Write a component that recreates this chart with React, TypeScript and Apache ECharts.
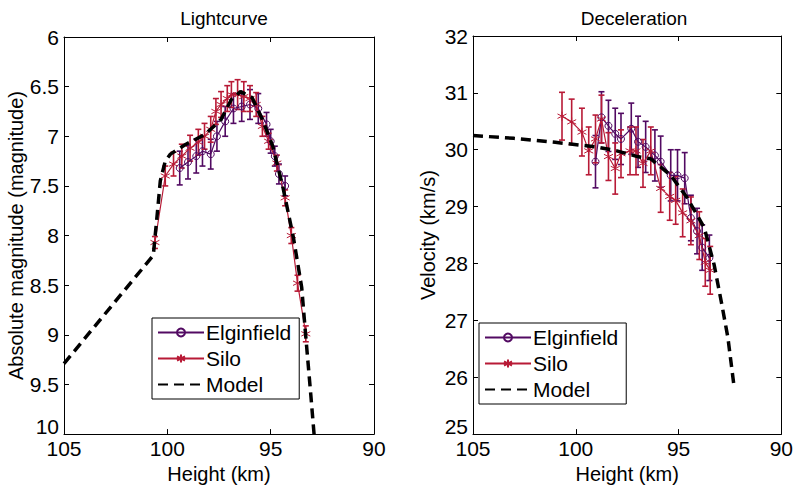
import React, { useEffect, useRef } from 'react';
import * as echarts from 'echarts';

// Lightcurve: [height km, magnitude, error]
const lcElginfield: number[][] = [
  [99.4, 7.32, 0.17], [99.0, 7.26, 0.17], [98.6, 7.2, 0.17], [98.3, 7.15, 0.15],
  [97.9, 7.18, 0.15], [97.6, 7.0, 0.15], [97.2, 6.85, 0.15], [96.8, 6.72, 0.15],
  [96.4, 6.7, 0.15], [96.0, 6.68, 0.15], [95.6, 6.72, 0.15], [95.2, 6.88, 0.12],
  [95.0, 7.05, 0.12], [94.8, 7.2, 0.1], [94.6, 7.38, 0.1], [94.3, 7.5, 0.1],
];
const lcSilo: number[][] = [
  [100.6, 8.07, 0.06], [100.1, 7.4, 0.1], [99.7, 7.28, 0.12], [99.3, 7.2, 0.12],
  [98.9, 7.12, 0.13], [98.5, 7.06, 0.13], [98.2, 7.0, 0.13], [97.9, 6.93, 0.13],
  [97.65, 6.75, 0.13], [97.4, 6.68, 0.13], [97.1, 6.62, 0.13], [96.9, 6.58, 0.13],
  [96.6, 6.58, 0.15], [96.3, 6.6, 0.15], [96.0, 6.62, 0.13], [95.7, 6.68, 0.12],
  [95.4, 6.9, 0.1], [95.1, 7.05, 0.08], [94.7, 7.27, 0.08], [94.3, 7.62, 0.08],
  [94.0, 8.0, 0.08], [93.7, 8.48, 0.08], [93.3, 8.99, 0.08],
];
const lcModel: number[][] = [
  [105, 9.29], [100.68, 8.2], [100.45, 7.7], [100.34, 7.45], [100.1, 7.25],
  [99.85, 7.18], [99.1, 7.08], [98.16, 6.98], [97.4, 6.83], [96.9, 6.63],
  [96.46, 6.55], [95.9, 6.61], [95.4, 6.83], [94.9, 7.1], [94.4, 7.52],
  [93.9, 8.02], [93.5, 8.52], [93.3, 9.02], [93.06, 9.6], [92.9, 10.0],
];

// Deceleration: [height km, velocity km/s, error]
const decElginfield: number[][] = [
  [99.04, 29.79, 0.46], [98.75, 30.57, 0.45], [98.41, 30.42, 0.45], [98.08, 30.28, 0.45],
  [97.8, 30.19, 0.45], [97.3, 30.37, 0.45], [96.97, 30.14, 0.45], [96.6, 30.05, 0.45],
  [96.15, 29.9, 0.45], [95.87, 29.79, 0.45], [95.38, 29.55, 0.45], [95.05, 29.55, 0.45],
  [94.7, 29.5, 0.45], [94.4, 28.8, 0.4], [94.1, 28.57, 0.4], [93.85, 28.28, 0.4],
  [93.5, 28.1, 0.4],
];
const decSilo: number[][] = [
  [100.67, 30.59, 0.42], [100.2, 30.49, 0.4], [99.7, 30.31, 0.42], [99.37, 29.98, 0.42],
  [99.04, 30.19, 0.42], [98.75, 30.54, 0.42], [98.41, 29.88, 0.42], [98.08, 29.67, 0.45],
  [97.8, 29.93, 0.42], [97.36, 29.98, 0.42], [97.07, 29.98, 0.42], [96.73, 29.76, 0.42],
  [96.35, 29.98, 0.42], [95.87, 29.32, 0.42], [95.43, 29.18, 0.42], [95.14, 29.11, 0.42],
  [94.8, 28.89, 0.42], [94.4, 28.75, 0.42], [93.99, 28.49, 0.42], [93.7, 28.02, 0.42],
  [93.46, 27.88, 0.42],
];
const decModel: number[][] = [
  [105, 30.25], [103, 30.2], [101, 30.13], [99, 30.05], [98, 29.98], [97, 29.88],
  [96.35, 29.84], [95.38, 29.55], [94.57, 29.15], [93.75, 28.63], [93.27, 27.98],
  [92.9, 27.29], [92.6, 26.7], [92.3, 25.84],
];

const PURPLE = '#520a62';
const RED = '#b81a36';
const FONT = 'Liberation Sans, Arial, sans-serif';
const STAR = 'path://M5,0L5,10M0.67,2.5L9.33,7.5M0.67,7.5L9.33,2.5';
const LABEL_SIZE = 21;
const NAME_SIZE = 20;

const errorSeries = (name: string, rows: number[][], color: string, axis: number) => ({
  name,
  type: 'custom',
  xAxisIndex: axis,
  yAxisIndex: axis,
  clip: true,
  silent: true,
  encode: { x: 0, y: [1, 2] },
  data: rows.map((r) => [r[0], r[1] - r[2], r[1] + r[2]]),
  renderItem: (_params: any, api: any) => {
    const lo = api.coord([api.value(0), api.value(1)]);
    const hi = api.coord([api.value(0), api.value(2)]);
    const st = { stroke: color, lineWidth: 1.6 };
    return {
      type: 'group',
      children: [
        { type: 'line', shape: { x1: lo[0], y1: lo[1], x2: hi[0], y2: hi[1] }, style: st },
        { type: 'line', shape: { x1: lo[0] - 3, y1: lo[1], x2: lo[0] + 3, y2: lo[1] }, style: st },
        { type: 'line', shape: { x1: hi[0] - 3, y1: hi[1], x2: hi[0] + 3, y2: hi[1] }, style: st },
      ],
    };
  },
});

const dataSeries = (name: string, rows: number[][], color: string, axis: number, star: boolean) => ({
  name,
  type: 'line',
  xAxisIndex: axis,
  yAxisIndex: axis,
  data: rows.map((r) => [r[0], r[1]]),
  symbol: star ? STAR : 'circle',
  symbolSize: star ? 9 : 7,
  showAllSymbol: true,
  lineStyle: { color, width: 1.2 },
  itemStyle: { color: star ? color : 'rgba(0,0,0,0)', borderColor: color, borderWidth: 1 },
  z: 3,
});

const modelSeries = (rows: number[][], axis: number) => ({
  name: 'Model',
  type: 'line',
  xAxisIndex: axis,
  yAxisIndex: axis,
  data: rows,
  symbol: 'none',
  lineStyle: { color: '#000', width: 3.5, type: [10, 6] },
  itemStyle: { color: 'rgba(0,0,0,0)', borderWidth: 0 },
  z: 4,
});

const xAxisPair = (grid: number) => [
  {
    gridIndex: grid, type: 'value', min: 90, max: 105, interval: 5, inverse: true, position: 'bottom',
    name: 'Height (km)', nameLocation: 'middle', nameGap: 29,
    nameTextStyle: { fontSize: NAME_SIZE, color: '#000', fontFamily: FONT },
    axisLine: { show: true, onZero: false, lineStyle: { color: '#000' } },
    axisTick: { inside: true, length: 5, lineStyle: { color: '#000' } },
    axisLabel: { fontSize: LABEL_SIZE, color: '#000', fontFamily: FONT, margin: 4 },
    splitLine: { show: false },
  },
  {
    gridIndex: grid, type: 'value', min: 90, max: 105, interval: 5, inverse: true, position: 'top',
    axisLine: { show: true, onZero: false, lineStyle: { color: '#000' } },
    axisTick: { inside: true, length: 5, lineStyle: { color: '#000' } },
    axisLabel: { show: false },
    splitLine: { show: false },
  },
];

// the bottom tick label sits a little higher, as in the reference, so it clears the x labels
const yAxisPair = (grid: number, min: number, max: number, interval: number, inverse: boolean, name: string, gap: number) => {
  const bottomVal = inverse ? max : min;
  return [
    {
      gridIndex: grid, type: 'value', min, max, interval, inverse, position: 'left',
      name, nameLocation: 'middle', nameGap: gap,
      nameTextStyle: { fontSize: NAME_SIZE, color: '#000', fontFamily: FONT },
      axisLine: { show: true, onZero: false, lineStyle: { color: '#000' } },
      axisTick: { inside: true, length: 5, lineStyle: { color: '#000' } },
      axisLabel: {
        fontSize: LABEL_SIZE, color: '#000', fontFamily: FONT, margin: 5,
        formatter: (v: number) => (v === bottomVal ? `{b|${v}}` : `${v}`),
        rich: { b: { fontSize: LABEL_SIZE, color: '#000', fontFamily: FONT, padding: [0, 0, 16, 0] } },
      },
      splitLine: { show: false },
    },
    {
      gridIndex: grid, type: 'value', min, max, interval, inverse, position: 'right',
      axisLine: { show: true, onZero: false, lineStyle: { color: '#000' } },
      axisTick: { inside: true, length: 5, lineStyle: { color: '#000' } },
      axisLabel: { show: false },
      splitLine: { show: false },
    },
  ];
};

const legendBox = (left: number, top: number) => ({
  left, top,
  orient: 'vertical',
  data: ['Elginfield', 'Silo', 'Model'],
  backgroundColor: '#fff',
  borderColor: '#000',
  borderWidth: 1,
  borderRadius: 0,
  padding: [4, 8, 4, 5],
  itemGap: 5,
  itemWidth: 46,
  itemHeight: 10,
  selectedMode: false,
  textStyle: { fontSize: 21, color: '#000', fontFamily: FONT, padding: [0, 0, 0, -3] },
});

const App: React.FC = () => {
  const chartRef = useRef<HTMLDivElement>(null);

  useEffect(() => {
    if (!chartRef.current) return;
    const chart = echarts.init(chartRef.current, undefined, { renderer: 'svg' });

    const option: any = {
      animation: false,
      backgroundColor: '#fff',
      textStyle: { fontFamily: FONT },
      title: [
        { text: 'Lightcurve', left: 219, top: 4, textAlign: 'center', textStyle: { fontSize: 19, fontWeight: 'normal', color: '#000', fontFamily: FONT } },
        { text: 'Deceleration', left: 629, top: 4, textAlign: 'center', textStyle: { fontSize: 19, fontWeight: 'normal', color: '#000', fontFamily: FONT } },
      ],
      grid: [
        { left: 64, top: 37, width: 310, height: 402 },
        { left: 473, top: 36, width: 312, height: 403 },
      ],
      xAxis: [...xAxisPair(0), ...xAxisPair(1)],
      yAxis: [
        ...yAxisPair(0, 6, 10, 0.5, true, 'Absolute magnitude (magnitude)', 37),
        ...yAxisPair(1, 25, 32, 1, false, 'Velocity (km/s)', 35),
      ],
      legend: [legendBox(152, 318), legendBox(479, 323)],
      series: [
        errorSeries('lcElgErr', lcElginfield, PURPLE, 0),
        errorSeries('lcSiloErr', lcSilo, RED, 0),
        dataSeries('Elginfield', lcElginfield, PURPLE, 0, false),
        dataSeries('Silo', lcSilo, RED, 0, true),
        modelSeries(lcModel, 0),
        errorSeries('decElgErr', decElginfield, PURPLE, 2),
        errorSeries('decSiloErr', decSilo, RED, 2),
        dataSeries('Elginfield', decElginfield, PURPLE, 2, false),
        dataSeries('Silo', decSilo, RED, 2, true),
        modelSeries(decModel, 2),
      ],
    };

    chart.setOption(option);
    return () => chart.dispose();
  }, []);

  return <div ref={chartRef} style={{ position: 'absolute', left: 0, top: 0, width: 796, height: 489 }} />;
};

export default App;
